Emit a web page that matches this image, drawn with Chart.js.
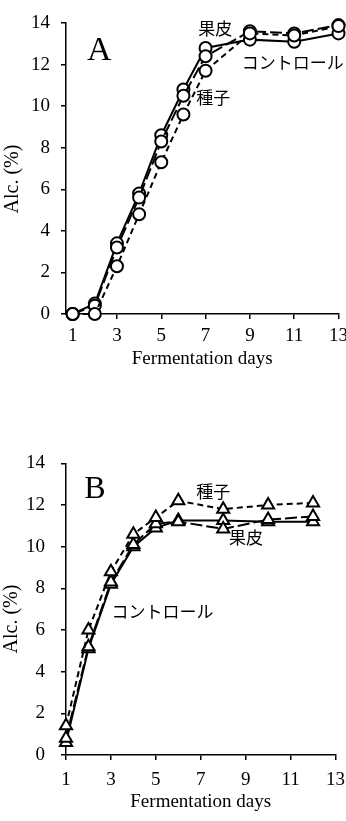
<!DOCTYPE html>
<html>
<head>
<meta charset="utf-8">
<script src="https://cdn.jsdelivr.net/npm/chart.js@4"></script>
<style>
    body { margin: 0; background: #fff; overflow: hidden; }
    .box { position: absolute; left: 0; width: 354px; }
    #boxA { top: 0; height: 380px; }
    #boxB { top: 420px; height: 401px; }
</style>
</head>
<body>
<div class="box" id="boxA"><canvas id="chartA"></canvas></div>
<div class="box" id="boxB"><canvas id="chartB"></canvas></div>
<script>
// Panel A: circles
const daysA = [1, 2, 3, 4, 5, 6, 7, 9, 11, 13];
const controlA = [0, 0.5, 3.4, 5.8, 8.6, 10.8, 12.8, 13.2, 13.1, 13.5];
const peelA = [0, 0.4, 3.2, 5.6, 8.3, 10.5, 12.4, 13.6, 13.5, 13.9];
const seedA = [0, 0, 2.3, 4.8, 7.3, 9.6, 11.7, 13.5, 13.4, 13.85];

// Panel B: triangles
const daysB = [1, 2, 3, 4, 5, 6, 8, 10, 12];
const controlB = [0.6, 5.1, 8.2, 10.0, 10.9, 11.25, 11.25, 11.2, 11.2];
const peelB = [0.8, 5.2, 8.3, 10.1, 11.1, 11.2, 10.85, 11.3, 11.45];
const seedB = [1.4, 6.0, 8.8, 10.6, 11.4, 12.2, 11.8, 12.0, 12.1];

const xTicks = [1, 3, 5, 7, 9, 11, 13];
const yTicks = [0, 2, 4, 6, 8, 10, 12, 14];

const serif = "'Liberation Serif', 'Times New Roman', serif";
const jp = "'Noto Sans CJK JP', sans-serif";

function pts(days, vals) {
    return days.map((d, i) => ({x: d, y: vals[i]}));
}

function ds(label, days, vals, dash, style, radius) {
    return {
        label: label,
        data: pts(days, vals),
        borderColor: '#000',
        borderWidth: 2,
        borderDash: dash,
        backgroundColor: '#fff',
        pointStyle: style,
        pointRadius: radius,
        pointBorderWidth: 2,
        pointBackgroundColor: '#fff',
        pointBorderColor: '#000',
        tension: 0,
        clip: false
    };
}

// text labels placed in data coordinates
const notes = {
    id: 'notes',
    afterDatasetsDraw(chart, args, opts) {
        const ctx = chart.ctx;
        const x = chart.scales.x, y = chart.scales.y;
        ctx.save();
        ctx.fillStyle = '#000';
        opts.items.forEach(it => {
            ctx.font = it.font;
            ctx.textAlign = it.align || 'center';
            ctx.textBaseline = it.base || 'middle';
            ctx.fillText(it.text, x.getPixelForValue(it.x), y.getPixelForValue(it.y));
        });
        // y title
        ctx.translate(opts.yTitle[0], opts.yTitle[1]);
        ctx.rotate(-Math.PI / 2);
        ctx.font = '20px ' + serif;
        ctx.textAlign = 'center';
        ctx.textBaseline = 'middle';
        ctx.fillText('Alc. (%)', 0, 0);
        ctx.restore();
    }
};

function makeChart(id, datasets, xmin, padTop, yPad, xLabelPad, titlePad, items, yTitle) {
    return new Chart(document.getElementById(id), {
        type: 'line',
        data: {datasets: datasets},
        plugins: [notes],
        options: {
            responsive: true,
            maintainAspectRatio: false,
            animation: false,
            layout: {padding: {top: padTop, right: 0, left: 0, bottom: 0}},
            plugins: {
                legend: {display: false},
                tooltip: {enabled: false},
                notes: {items: items, yTitle: yTitle}
            },
            scales: {
                x: {
                    type: 'linear',
                    min: xmin,
                    max: 13,
                    afterBuildTicks: s => { s.ticks = xTicks.map(v => ({value: v})); },
                    afterFit: s => { s.height = 66; },
                    grid: {drawOnChartArea: false, tickLength: 5, color: '#000', lineWidth: 1.5},
                    border: {color: '#000', width: 1.5},
                    ticks: {color: '#000', padding: xLabelPad, font: {family: serif, size: 19}, maxRotation: 0},
                    title: {display: true, text: 'Fermentation days', color: '#000',
                        font: {family: serif, size: 19}, padding: {top: 0, bottom: titlePad}}
                },
                y: {
                    min: 0,
                    max: 14,
                    afterBuildTicks: s => { s.ticks = yTicks.map(v => ({value: v})); },
                    afterFit: s => { s.width = 66; },
                    grid: {drawOnChartArea: false, tickLength: 5, color: '#000', lineWidth: 1.5},
                    border: {color: '#000', width: 1.5},
                    ticks: {color: '#000', padding: yPad, font: {family: serif, size: 19}}
                }
            }
        }
    });
}

makeChart('chartA', [
    ds('種子', daysA, seedA, [6, 4], 'circle', 6),
    ds('果皮', daysA, peelA, [12, 4], 'circle', 6),
    ds('コントロール', daysA, controlA, [], 'circle', 6)
], 0.7, 23, 11, 6, 10, [
    {text: 'A', x: 1.65, y: 12.2, font: '34px ' + serif, align: 'left', base: 'alphabetic'},
    {text: '果皮', x: 7.44, y: 13.71, font: '17px ' + jp},
    {text: 'コントロール', x: 10.93, y: 12.08, font: '17px ' + jp},
    {text: '種子', x: 7.35, y: 10.4, font: '17px ' + jp}
], [13, 179]);

makeChart('chartB', [
    ds('種子', daysB, seedB, [6, 4], 'triangle', 7),
    ds('果皮', daysB, peelB, [12, 4], 'triangle', 7),
    ds('コントロール', daysB, controlB, [], 'triangle', 7)
], 1, 43.3, 16, 9, 8, [
    {text: 'B', x: 1.81, y: 12.33, font: '32px ' + serif, align: 'left', base: 'alphabetic'},
    {text: '種子', x: 7.56, y: 12.66, font: '17px ' + jp},
    {text: '果皮', x: 9.02, y: 10.45, font: '17px ' + jp},
    {text: 'コントロール', x: 5.3, y: 6.89, font: '17px ' + jp}
], [12, 619 - 420]);
</script>
</body>
</html>
